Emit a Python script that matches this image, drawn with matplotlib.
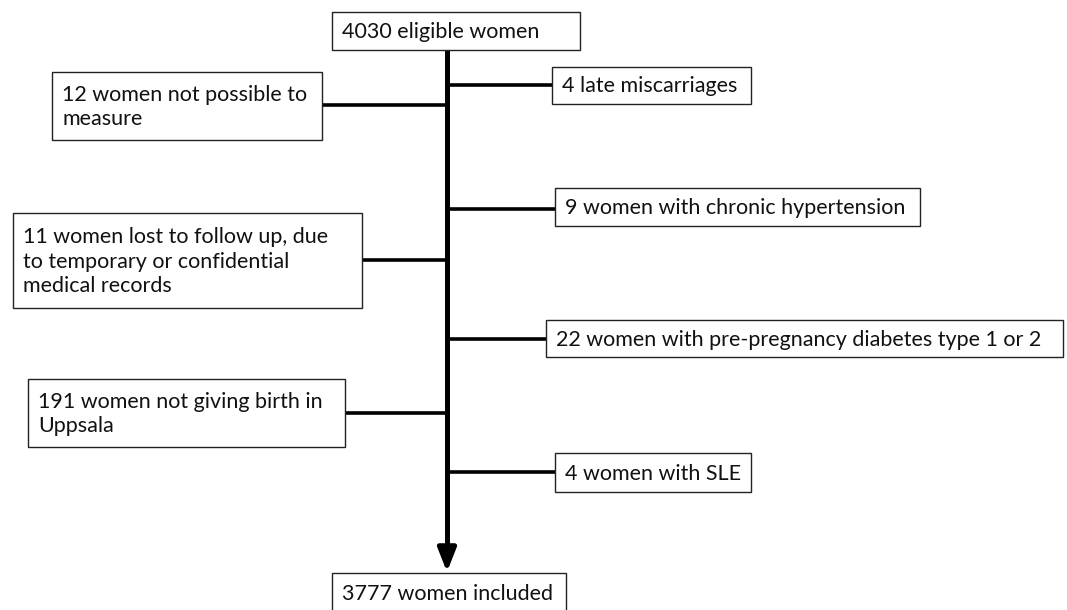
import matplotlib.pyplot as plt
from matplotlib.patches import Rectangle

# boxes: text, (x0, y0, x1, y1) in pixel coords, connector y
top_text = "4030 eligible women"
bottom_text = "3777 women included"
excl_texts = [
    "12 women not possible to\nmeasure",
    "4 late miscarriages",
    "9 women with chronic hypertension",
    "11 women lost to follow up, due\nto temporary or confidential\nmedical records",
    "22 women with pre-pregnancy diabetes type 1 or 2",
    "191 women not giving birth in\nUppsala",
    "4 women with SLE",
]
excl_boxes = [
    (52, 72, 322, 140),
    (552, 67, 751, 104),
    (555, 188, 920, 226),
    (13, 213, 362, 308),
    (546, 320, 1063, 357),
    (28, 379, 345, 447),
    (555, 453, 751, 492),
]
excl_link_y = [105, 85, 209, 260, 339, 413, 472]

spine_x = 447
font = dict(family=["Lato", "DejaVu Sans"], fontsize=15.5)

fig = plt.figure(figsize=(10.67, 6.10), dpi=100)
ax = fig.add_axes([0, 0, 1, 1])
ax.set_xlim(0, 1067)
ax.set_ylim(610, 0)
ax.axis("off")


def box(x0, y0, x1, y1, text):
    ax.add_patch(Rectangle((x0, y0), x1 - x0, y1 - y0, fill=True, fc="white",
                           ec="#222222", lw=1.0, zorder=3))
    ax.text(x0 + 10, (y0 + y1) / 2 + 1, text, ha="left", va="center",
            linespacing=1.3, color="#111111", zorder=4, **font)


# main vertical line with arrow
ax.plot([spine_x, spine_x], [50, 550], color="black", lw=3.6, zorder=1,
        solid_capstyle="butt")
ax.annotate("", xy=(spine_x, 572), xytext=(spine_x, 548),
            arrowprops=dict(arrowstyle="-|>,head_length=1.4,head_width=0.55",
                            color="black", lw=3.6, shrinkA=0, shrinkB=0))

box(332, 12, 580, 50, top_text)
box(332, 573, 566, 612, bottom_text)

for t, (x0, y0, x1, y1), ly in zip(excl_texts, excl_boxes, excl_link_y):
    if x0 > spine_x:
        ax.plot([spine_x, x0], [ly, ly], color="black", lw=2.6, zorder=2)
    else:
        ax.plot([x1, spine_x], [ly, ly], color="black", lw=2.6, zorder=2)
    box(x0, y0, x1, y1, t)

fig.savefig("out.png", dpi=100)
